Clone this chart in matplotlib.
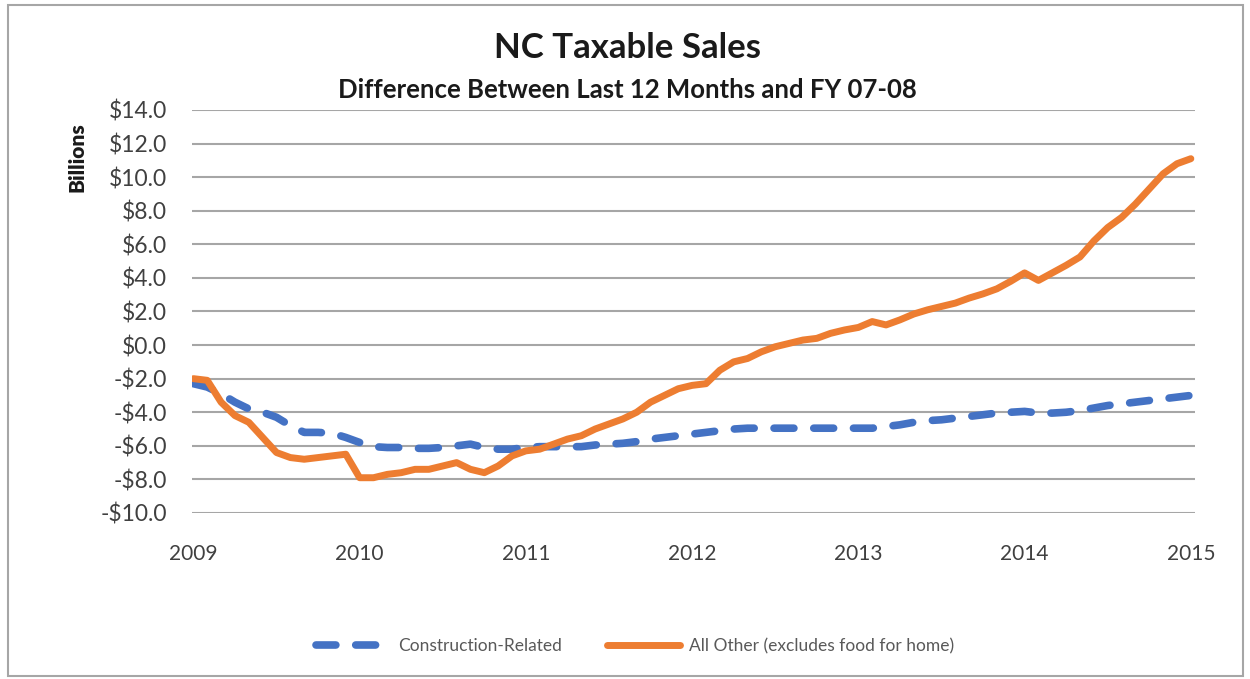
import numpy as np
import matplotlib
matplotlib.use('Agg')
import matplotlib.pyplot as plt
from matplotlib.patches import Rectangle

plt.rcParams['font.family'] = ['Lato', 'DejaVu Sans']

# monthly points, Jan 2009 .. Jan 2015 (billions of dollars)
years = ['2009', '2010', '2011', '2012', '2013', '2014', '2015']
construction = [-2.3, -2.5, -2.9, -3.4, -3.8, -4.0, -4.3, -4.8, -5.2, -5.2, -5.25, -5.5,
                -5.8, -6.05, -6.1, -6.1, -6.15, -6.15, -6.1, -6.0, -5.9, -6.1, -6.2, -6.2,
                -6.1, -6.05, -6.05, -6.05, -6.05, -5.95, -5.9, -5.85, -5.75, -5.6, -5.5, -5.4,
                -5.3, -5.2, -5.1, -5.0, -4.95, -4.95, -4.95, -4.95, -4.95, -4.95, -4.95, -4.95,
                -4.95, -4.95, -4.85, -4.75, -4.6, -4.5, -4.45, -4.35, -4.25, -4.15, -4.05, -4.0,
                -3.95, -4.05, -4.05, -4.0, -3.9, -3.75, -3.6, -3.5, -3.4, -3.3, -3.2, -3.1,
                -3.0]
all_other = [-2.0, -2.1, -3.4, -4.2, -4.6, -5.5, -6.4, -6.7, -6.8, -6.7, -6.6, -6.5,
             -7.9, -7.9, -7.7, -7.6, -7.4, -7.4, -7.2, -7.0, -7.4, -7.6, -7.2, -6.6,
             -6.3, -6.2, -5.9, -5.6, -5.4, -5.0, -4.7, -4.4, -4.0, -3.4, -3.0, -2.6,
             -2.4, -2.3, -1.5, -1.0, -0.8, -0.4, -0.1, 0.1, 0.3, 0.4, 0.7, 0.9,
             1.05, 1.4, 1.2, 1.5, 1.85, 2.1, 2.3, 2.5, 2.8, 3.05, 3.35, 3.8,
             4.3, 3.85, 4.3, 4.75, 5.25, 6.2, 7.0, 7.6, 8.4, 9.3, 10.2, 10.8,
             11.1]
months = np.arange(len(all_other))

fig = plt.figure(figsize=(12.5, 6.79), dpi=100)
ax = fig.add_axes([0.1536, 0.2445, 0.8024, 0.5935])

# lines
ax.plot(months, construction, color='#4472C4', linewidth=5.5, linestyle=(0, (2.6, 2.6)),
        dash_capstyle='round', label='Construction-Related')
ax.plot(months, all_other, color='#ED7D31', linewidth=5, solid_capstyle='round',
        solid_joinstyle='round', label='All Other (excludes food for home)')

# axes
ax.set_xlim(-0.1, 72.3)
ax.set_ylim(-10, 14)
yt = np.arange(-10, 15, 2)
ax.set_yticks(yt)
ax.set_yticklabels([('-$%.1f' % abs(v)) if v < 0 else ('$%.1f' % v) for v in yt])
ax.set_xticks(np.arange(0, 73, 12))
ax.set_xticklabels(years)
ax.tick_params(axis='y', length=0, pad=18, labelsize=16.5, labelcolor='#404040')
ax.tick_params(axis='x', length=0, pad=22, labelsize=15, labelcolor='#404040')
ax.grid(axis='y', color='#a6a6a6', linewidth=1.5)
ax.set_axisbelow(True)
for s in ax.spines.values():
    s.set_visible(False)

# titles
fig.text(0.502, 1 - 48 / 679, 'NC Taxable Sales', ha='center', va='center',
         fontsize=25, fontweight='bold', color='#1a1a1a')
fig.text(0.502, 1 - 90 / 679, 'Difference Between Last 12 Months and FY 07-08', ha='center',
         va='center', fontsize=18.5, fontweight='bold', color='#1a1a1a')
fig.text(77 / 1250, 1 - 157 / 679, 'Billions', rotation=90, ha='center', va='center',
         fontsize=15, fontweight='heavy', color='#1a1a1a')

# legend
fig.legend(loc='center', bbox_to_anchor=(0.508, 1 - 646 / 679), ncol=2, frameon=False,
           fontsize=12.5, handlelength=4.2, handletextpad=0.5, columnspacing=2.6,
           labelcolor='#595959')

# chart border
fig.patches.append(Rectangle((8 / 1250, 3 / 679), 1235 / 1250, 671 / 679, transform=fig.transFigure,
                             fill=False, edgecolor='#a6a6a6', linewidth=1.5))

plt.savefig('out.png')
plt.close()
